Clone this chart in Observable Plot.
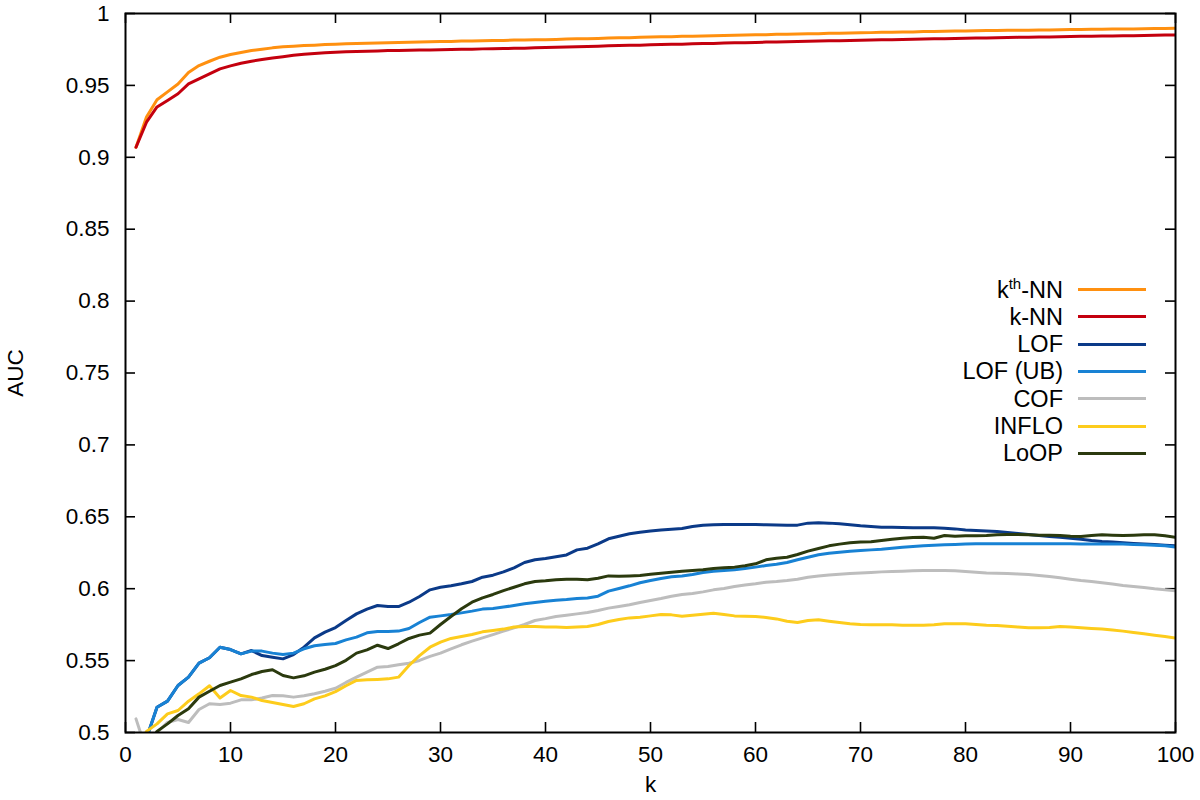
<!DOCTYPE html>
<html>
<head>
<meta charset="utf-8">
<script src="https://cdn.jsdelivr.net/npm/d3@7"></script>
<script src="https://cdn.jsdelivr.net/npm/@observablehq/plot@0.6"></script>
<style>
  html, body { margin: 0; padding: 0; background: #fff; }
  #wrap { position: relative; width: 1200px; height: 800px; font-family: "Liberation Sans", Arial, sans-serif; }
  .lg-text { position: absolute; left: 0; width: 1063px; text-align: right; font-size: 23.5px; line-height: 28px; color: #000; white-space: nowrap; }
  .lg-text sup { font-size: 15px; vertical-align: 0; position: relative; top: -0.6em; }
  .lg-line { position: absolute; left: 1078px; width: 68px; height: 3px; }
</style>
</head>
<body>
<div id="wrap"></div>
<script>
const methods = ["kth-NN", "k-NN", "LOF", "LOF (UB)", "COF", "INFLO", "LoOP"];
const legendLabels = ["k<sup>th</sup>-NN", "k-NN", "LOF", "LOF (UB)", "COF", "INFLO", "LoOP"];
const colors = ["#ff9010", "#c4000e", "#0b3a88", "#1882d4", "#bdbdbd", "#fdcc1c", "#2b3a0e"];
const xTicks = [0, 10, 20, 30, 40, 50, 60, 70, 80, 90, 100];
const yTicks = [0.5, 0.55, 0.6, 0.65, 0.7, 0.75, 0.8, 0.85, 0.9, 0.95, 1];
const kValues = d3.range(1, 101);

const kthNN = [
  0.9070, 0.9280, 0.9400, 0.9455, 0.9510, 0.9590, 0.9638, 0.9668, 0.9696, 0.9715,
  0.9729, 0.9743, 0.9752, 0.9761, 0.9768, 0.9773, 0.9777, 0.9780, 0.9784, 0.9787,
  0.9789, 0.9791, 0.9793, 0.9795, 0.9797, 0.9798, 0.9800, 0.9802, 0.9803, 0.9805,
  0.9806, 0.9808, 0.9809, 0.9810, 0.9812, 0.9813, 0.9815, 0.9816, 0.9817, 0.9818,
  0.9820, 0.9822, 0.9824, 0.9825, 0.9827, 0.9829, 0.9831, 0.9832, 0.9834, 0.9836,
  0.9838, 0.9839, 0.9841, 0.9842, 0.9844, 0.9845, 0.9847, 0.9849, 0.9850, 0.9852,
  0.9853, 0.9855, 0.9856, 0.9858, 0.9859, 0.9860, 0.9862, 0.9863, 0.9865, 0.9866,
  0.9867, 0.9869, 0.9870, 0.9871, 0.9872, 0.9874, 0.9875, 0.9876, 0.9878, 0.9879,
  0.9880, 0.9881, 0.9882, 0.9883, 0.9884, 0.9884, 0.9885, 0.9886, 0.9887, 0.9888,
  0.9889, 0.9890, 0.9891, 0.9892, 0.9893, 0.9893, 0.9894, 0.9895, 0.9896, 0.9897
];
const kNN = [
  0.9070, 0.9244, 0.9350, 0.9395, 0.9442, 0.9510, 0.9546, 0.9580, 0.9615, 0.9636,
  0.9654, 0.9668, 0.9680, 0.9691, 0.9700, 0.9710, 0.9716, 0.9722, 0.9727, 0.9731,
  0.9734, 0.9736, 0.9738, 0.9740, 0.9742, 0.9743, 0.9744, 0.9746, 0.9747, 0.9748,
  0.9750, 0.9751, 0.9752, 0.9754, 0.9755, 0.9756, 0.9758, 0.9759, 0.9761, 0.9763,
  0.9765, 0.9767, 0.9769, 0.9771, 0.9773, 0.9775, 0.9777, 0.9779, 0.9780, 0.9782,
  0.9784, 0.9786, 0.9787, 0.9789, 0.9791, 0.9792, 0.9794, 0.9796, 0.9797, 0.9799,
  0.9801, 0.9802, 0.9804, 0.9805, 0.9807, 0.9808, 0.9810, 0.9811, 0.9813, 0.9814,
  0.9816, 0.9817, 0.9818, 0.9820, 0.9821, 0.9822, 0.9824, 0.9825, 0.9827, 0.9828,
  0.9829, 0.9830, 0.9832, 0.9833, 0.9834, 0.9835, 0.9836, 0.9837, 0.9839, 0.9840,
  0.9841, 0.9842, 0.9843, 0.9844, 0.9845, 0.9846, 0.9847, 0.9848, 0.9850, 0.9851
];
const lof = [
  0.4800, 0.4960, 0.5176, 0.5218, 0.5327, 0.5385, 0.5482, 0.5520, 0.5593, 0.5577,
  0.5547, 0.5570, 0.5535, 0.5524, 0.5512, 0.5542, 0.5593, 0.5658, 0.5698, 0.5730,
  0.5779, 0.5825, 0.5858, 0.5883, 0.5876, 0.5876, 0.5906, 0.5946, 0.5992, 0.6010,
  0.6020, 0.6034, 0.6050, 0.6080, 0.6094, 0.6117, 0.6145, 0.6182, 0.6201, 0.6210,
  0.6222, 0.6235, 0.6270, 0.6282, 0.6312, 0.6347, 0.6365, 0.6382, 0.6393, 0.6402,
  0.6409, 0.6414, 0.6419, 0.6433, 0.6442, 0.6444, 0.6446, 0.6446, 0.6446, 0.6446,
  0.6444, 0.6443, 0.6442, 0.6442, 0.6456, 0.6458, 0.6456, 0.6451, 0.6444, 0.6437,
  0.6433, 0.6428, 0.6428, 0.6426, 0.6423, 0.6423, 0.6423, 0.6421, 0.6416, 0.6409,
  0.6405, 0.6402, 0.6398, 0.6391, 0.6384, 0.6377, 0.6370, 0.6363, 0.6358, 0.6351,
  0.6344, 0.6335, 0.6328, 0.6324, 0.6319, 0.6314, 0.6310, 0.6307, 0.6303, 0.6298
];
const lofUB = [
  0.4800, 0.4960, 0.5176, 0.5218, 0.5327, 0.5385, 0.5482, 0.5520, 0.5593, 0.5577,
  0.5547, 0.5566, 0.5566, 0.5552, 0.5542, 0.5552, 0.5582, 0.5603, 0.5612, 0.5619,
  0.5644, 0.5663, 0.5693, 0.5702, 0.5702, 0.5705, 0.5723, 0.5765, 0.5802, 0.5811,
  0.5820, 0.5832, 0.5844, 0.5858, 0.5862, 0.5872, 0.5883, 0.5895, 0.5904, 0.5913,
  0.5920, 0.5925, 0.5932, 0.5936, 0.5948, 0.5983, 0.6001, 0.6020, 0.6041, 0.6057,
  0.6071, 0.6083, 0.6089, 0.6099, 0.6113, 0.6122, 0.6127, 0.6131, 0.6140, 0.6150,
  0.6161, 0.6170, 0.6182, 0.6201, 0.6219, 0.6236, 0.6247, 0.6254, 0.6261, 0.6266,
  0.6270, 0.6275, 0.6282, 0.6289, 0.6293, 0.6298, 0.6303, 0.6305, 0.6307, 0.6310,
  0.6312, 0.6312, 0.6312, 0.6312, 0.6312, 0.6312, 0.6312, 0.6312, 0.6312, 0.6312,
  0.6311, 0.6311, 0.6310, 0.6310, 0.6310, 0.6307, 0.6305, 0.6303, 0.6298, 0.6289
];
const cof = [
  0.5095, 0.4870, 0.5000, 0.5070, 0.5090, 0.5070, 0.5160, 0.5200, 0.5195, 0.5204,
  0.5227, 0.5227, 0.5240, 0.5257, 0.5255, 0.5246, 0.5255, 0.5269, 0.5287, 0.5308,
  0.5348, 0.5385, 0.5420, 0.5454, 0.5459, 0.5471, 0.5482, 0.5501, 0.5529, 0.5552,
  0.5582, 0.5610, 0.5635, 0.5658, 0.5681, 0.5705, 0.5728, 0.5751, 0.5779, 0.5792,
  0.5807, 0.5816, 0.5825, 0.5834, 0.5848, 0.5865, 0.5876, 0.5888, 0.5904, 0.5918,
  0.5932, 0.5948, 0.5960, 0.5967, 0.5978, 0.5992, 0.6001, 0.6015, 0.6025, 0.6034,
  0.6045, 0.6050, 0.6057, 0.6066, 0.6080, 0.6089, 0.6096, 0.6101, 0.6106, 0.6110,
  0.6113, 0.6117, 0.6120, 0.6122, 0.6124, 0.6127, 0.6127, 0.6127, 0.6124, 0.6120,
  0.6115, 0.6110, 0.6108, 0.6106, 0.6103, 0.6099, 0.6092, 0.6085, 0.6076, 0.6066,
  0.6057, 0.6050, 0.6041, 0.6032, 0.6022, 0.6015, 0.6008, 0.5999, 0.5992, 0.5985
];
const inflo = [
  0.4850, 0.5008, 0.5060, 0.5130, 0.5153, 0.5218, 0.5269, 0.5325, 0.5240, 0.5292,
  0.5257, 0.5246, 0.5222, 0.5209, 0.5195, 0.5181, 0.5200, 0.5234, 0.5255, 0.5284,
  0.5325, 0.5362, 0.5366, 0.5369, 0.5373, 0.5385, 0.5466, 0.5535, 0.5593, 0.5628,
  0.5654, 0.5668, 0.5681, 0.5700, 0.5709, 0.5719, 0.5733, 0.5737, 0.5737, 0.5733,
  0.5733, 0.5730, 0.5733, 0.5737, 0.5751, 0.5772, 0.5786, 0.5797, 0.5802, 0.5811,
  0.5821, 0.5818, 0.5809, 0.5816, 0.5823, 0.5830, 0.5821, 0.5811, 0.5809, 0.5807,
  0.5800, 0.5790, 0.5774, 0.5765, 0.5779, 0.5784, 0.5774, 0.5765, 0.5756, 0.5751,
  0.5749, 0.5749, 0.5749, 0.5746, 0.5746, 0.5746, 0.5749, 0.5756, 0.5756, 0.5756,
  0.5751, 0.5746, 0.5744, 0.5739, 0.5733, 0.5728, 0.5728, 0.5730, 0.5737, 0.5733,
  0.5728, 0.5723, 0.5719, 0.5712, 0.5705, 0.5695, 0.5686, 0.5677, 0.5668, 0.5656
];
const loop = [
  0.4700, 0.4880, 0.5008, 0.5060, 0.5118, 0.5165, 0.5246, 0.5287, 0.5327, 0.5350,
  0.5373, 0.5403, 0.5424, 0.5436, 0.5396, 0.5380, 0.5394, 0.5420, 0.5440, 0.5465,
  0.5502, 0.5552, 0.5575, 0.5607, 0.5584, 0.5617, 0.5654, 0.5677, 0.5691, 0.5751,
  0.5807, 0.5860, 0.5906, 0.5936, 0.5960, 0.5987, 0.6010, 0.6034, 0.6050, 0.6055,
  0.6063, 0.6066, 0.6066, 0.6062, 0.6073, 0.6089, 0.6087, 0.6089, 0.6092, 0.6101,
  0.6108, 0.6115, 0.6122, 0.6127, 0.6131, 0.6140, 0.6145, 0.6150, 0.6159, 0.6173,
  0.6201, 0.6212, 0.6219, 0.6238, 0.6261, 0.6280, 0.6298, 0.6310, 0.6319, 0.6324,
  0.6326, 0.6335, 0.6344, 0.6351, 0.6356, 0.6358, 0.6351, 0.6370, 0.6365, 0.6368,
  0.6368, 0.6370, 0.6375, 0.6377, 0.6377, 0.6375, 0.6372, 0.6372, 0.6370, 0.6365,
  0.6363, 0.6370, 0.6375, 0.6372, 0.6370, 0.6372, 0.6375, 0.6375, 0.6368, 0.6358
];

const seriesValues = [kthNN, kNN, lof, lofUB, cof, inflo, loop];
const data = methods.flatMap((m, i) => kValues.map((k, j) => ({method: m, k, auc: seriesValues[i][j]})));

const W = 1200, H = 800, mL = 125, mR = 25, mT = 13, mB = 68;
const innerW = W - mL - mR, innerH = H - mT - mB, tickLen = 10;

const chart = Plot.plot({
  width: W, height: H,
  marginLeft: mL, marginRight: mR, marginTop: mT, marginBottom: mB,
  style: {fontFamily: "'Liberation Sans', Arial, sans-serif", fontSize: "22.5px", color: "#000", background: "#fff"},
  x: {domain: [0, 100]},
  y: {domain: [0.5, 1]},
  color: {domain: methods, range: colors},
  marks: [
    Plot.axisX(xTicks, {anchor: "bottom", tickSize: 0, tickPadding: 14, label: null, fill: "#000"}),
    Plot.axisY(yTicks, {anchor: "left", tickSize: 0, tickPadding: 16, label: null, tickFormat: d3.format("~g"), fill: "#000"}),
    Plot.tickX(xTicks, {x: d => d, insetTop: innerH - tickLen, stroke: "#000", strokeWidth: 1.6}),
    Plot.tickX(xTicks, {x: d => d, insetBottom: innerH - tickLen, stroke: "#000", strokeWidth: 1.6}),
    Plot.tickY(yTicks, {y: d => d, insetRight: innerW - tickLen, stroke: "#000", strokeWidth: 1.6}),
    Plot.tickY(yTicks, {y: d => d, insetLeft: innerW - tickLen, stroke: "#000", strokeWidth: 1.6}),
    Plot.line(data, {x: "k", y: "auc", z: "method", stroke: "method", strokeWidth: 3, clip: true, strokeLinejoin: "round"}),
    Plot.frame({stroke: "#000", strokeWidth: 2}),
    Plot.text(["k"], {frameAnchor: "bottom", lineAnchor: "middle", textAnchor: "middle", dy: 52, text: d => d, fill: "#000"}),
    Plot.text(["AUC"], {frameAnchor: "left", lineAnchor: "middle", textAnchor: "middle", dx: -110, rotate: -90, text: d => d, fill: "#000"})
  ]
});

const wrap = document.getElementById("wrap");
wrap.appendChild(chart);

const rowTop = 289.5, rowStep = 27.3;
methods.forEach((m, i) => {
  const cy = rowTop + i * rowStep;
  const t = document.createElement("div");
  t.className = "lg-text";
  t.style.top = (cy - 14) + "px";
  t.innerHTML = legendLabels[i];
  wrap.appendChild(t);
  const l = document.createElement("div");
  l.className = "lg-line";
  l.style.top = (cy - 1.5) + "px";
  l.style.background = colors[i];
  wrap.appendChild(l);
});
</script>
</body>
</html>
